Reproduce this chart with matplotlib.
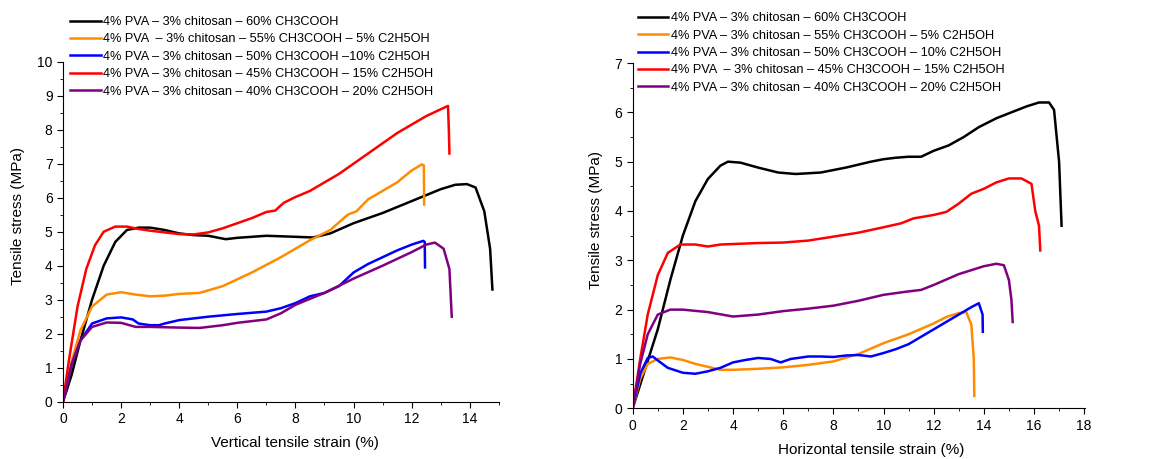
import matplotlib
matplotlib.use("Agg")
import matplotlib.pyplot as plt
from matplotlib.ticker import MultipleLocator
import numpy as np

plt.rcParams['font.family'] = ['Liberation Sans', 'DejaVu Sans']

colors = ["black", "#ff8c00", "#0000ff", "#ff0000", "#800080"]

labels_v = ["4% PVA – 3% chitosan – 60% CH3COOH",
            "4% PVA  – 3% chitosan – 55% CH3COOH – 5% C2H5OH",
            "4% PVA – 3% chitosan – 50% CH3COOH –10% C2H5OH",
            "4% PVA – 3% chitosan – 45% CH3COOH – 15% C2H5OH",
            "4% PVA – 3% chitosan – 40% CH3COOH – 20% C2H5OH"]
labels_h = ["4% PVA – 3% chitosan – 60% CH3COOH",
            "4% PVA – 3% chitosan – 55% CH3COOH – 5% C2H5OH",
            "4% PVA – 3% chitosan – 50% CH3COOH – 10% C2H5OH",
            "4% PVA  – 3% chitosan – 45% CH3COOH – 15% C2H5OH",
            "4% PVA – 3% chitosan – 40% CH3COOH – 20% C2H5OH"]

# vertical direction (left panel)
v_black_x = [0, 0.3, 0.6, 1.0, 1.4, 1.8, 2.2, 2.6, 3.0, 3.5, 4.0, 4.5, 5.0, 5.6, 6.0, 7.0, 8.0, 8.6, 9.2, 10, 11, 12, 13, 13.5, 13.9, 14.2, 14.5, 14.7, 14.78]
v_black_y = [0, 0.8, 1.8, 3.0, 4.0, 4.7, 5.05, 5.12, 5.12, 5.05, 4.95, 4.9, 4.88, 4.78, 4.82, 4.88, 4.85, 4.83, 4.95, 5.25, 5.55, 5.9, 6.25, 6.38, 6.4, 6.3, 5.6, 4.5, 3.3]
v_orange_x = [0, 0.3, 0.6, 1.0, 1.5, 2.0, 2.5, 3.0, 3.5, 4.0, 4.7, 5.5, 6.5, 7.5, 8.5, 9.2, 9.8, 10.1, 10.5, 11, 11.5, 12, 12.35, 12.42, 12.43]
v_orange_y = [0, 1.2, 2.1, 2.8, 3.15, 3.22, 3.15, 3.1, 3.12, 3.17, 3.2, 3.4, 3.8, 4.25, 4.75, 5.05, 5.5, 5.6, 5.95, 6.2, 6.45, 6.8, 6.98, 6.95, 5.8]
v_blue_x = [0, 0.3, 0.6, 1.0, 1.5, 2.0, 2.4, 2.6, 3.0, 3.3, 3.5, 4.0, 5, 6, 7, 7.5, 8, 8.5, 9, 9.5, 10, 10.5, 11, 11.5, 12, 12.4, 12.45, 12.46]
v_blue_y = [0, 1.1, 1.8, 2.3, 2.45, 2.48, 2.42, 2.3, 2.25, 2.25, 2.3, 2.4, 2.5, 2.58, 2.65, 2.75, 2.9, 3.1, 3.2, 3.4, 3.8, 4.05, 4.25, 4.45, 4.62, 4.73, 4.7, 3.95]
v_red_x = [0, 0.2, 0.5, 0.8, 1.1, 1.4, 1.8, 2.2, 2.6, 3.0, 3.5, 4.0, 4.5, 5.0, 5.5, 6, 6.5, 7, 7.3, 7.6, 8, 8.5, 9, 9.5, 10, 10.5, 11, 11.5, 12, 12.5, 13.0, 13.25, 13.28, 13.3]
v_red_y = [0, 1.2, 2.8, 3.9, 4.6, 5.0, 5.15, 5.15, 5.08, 5.03, 4.98, 4.93, 4.92, 4.98, 5.1, 5.25, 5.4, 5.58, 5.62, 5.85, 6.02, 6.2, 6.45, 6.7, 7.0, 7.3, 7.6, 7.9, 8.15, 8.4, 8.6, 8.7, 8.0, 7.3]
v_purple_x = [0, 0.3, 0.6, 1.0, 1.5, 2.0, 2.5, 3.0, 4.0, 4.7, 5.5, 6, 7, 7.5, 8, 9, 10, 11, 12, 12.5, 12.8, 13.1, 13.3, 13.38]
v_purple_y = [0, 1.1, 1.8, 2.2, 2.33, 2.32, 2.2, 2.2, 2.18, 2.17, 2.25, 2.32, 2.42, 2.6, 2.85, 3.2, 3.62, 4.0, 4.4, 4.62, 4.68, 4.5, 3.9, 2.5]

# horizontal direction (right panel)
h_black_x = [0, 0.5, 1.0, 1.5, 2.0, 2.5, 3.0, 3.5, 3.8, 4.3, 5, 5.8, 6.5, 7.5, 8.5, 9.5, 10, 10.5, 11, 11.5, 12, 12.6, 13.2, 13.8, 14.5, 15, 15.7, 16.2, 16.6, 16.8, 17.0, 17.1]
h_black_y = [0, 0.8, 1.6, 2.6, 3.5, 4.2, 4.65, 4.92, 5.0, 4.98, 4.88, 4.78, 4.75, 4.78, 4.88, 5.0, 5.05, 5.08, 5.1, 5.1, 5.22, 5.33, 5.5, 5.7, 5.88, 5.98, 6.12, 6.2, 6.2, 6.05, 5.0, 3.7]
h_orange_x = [0, 0.3, 0.6, 1.0, 1.5, 2.0, 2.5, 3.0, 3.5, 4.0, 5, 6, 7, 8, 9, 10, 11, 12, 12.5, 13, 13.3, 13.5, 13.6, 13.62]
h_orange_y = [0, 0.6, 0.9, 1.0, 1.03, 0.98, 0.9, 0.84, 0.78, 0.78, 0.8, 0.83, 0.88, 0.95, 1.1, 1.32, 1.5, 1.72, 1.85, 1.93, 1.95, 1.7, 1.0, 0.25]
h_blue_x = [0, 0.3, 0.6, 0.8, 1.0, 1.4, 2.0, 2.5, 3.0, 3.5, 4.0, 4.5, 5.0, 5.5, 5.9, 6.3, 7.0, 7.5, 8, 8.5, 9, 9.5, 10, 10.5, 11, 11.5, 12, 12.5, 13, 13.5, 13.8, 13.95, 13.96]
h_blue_y = [0, 0.7, 1.02, 1.05, 0.97, 0.82, 0.72, 0.7, 0.75, 0.82, 0.93, 0.98, 1.02, 1.0, 0.93, 1.0, 1.05, 1.05, 1.04, 1.07, 1.08, 1.05, 1.12, 1.2, 1.3, 1.45, 1.6, 1.75, 1.9, 2.05, 2.13, 1.9, 1.55]
h_red_x = [0, 0.3, 0.6, 1.0, 1.4, 1.9, 2.5, 3.0, 3.5, 4.0, 5, 6, 7, 8, 9, 10, 10.7, 11.2, 12, 12.5, 13, 13.5, 14, 14.5, 15, 15.5, 15.9, 16.05, 16.2, 16.25]
h_red_y = [0, 1.0, 1.9, 2.7, 3.15, 3.32, 3.32, 3.28, 3.32, 3.33, 3.35, 3.36, 3.4, 3.48, 3.56, 3.67, 3.75, 3.85, 3.92, 3.98, 4.15, 4.35, 4.45, 4.58, 4.66, 4.66, 4.55, 4.0, 3.7, 3.2]
h_purple_x = [0, 0.3, 0.6, 1.0, 1.5, 2.0, 3.0, 4.0, 5, 6, 7, 8, 9, 10, 11, 11.5, 12, 13, 14, 14.5, 14.8, 15.0, 15.1, 15.15]
h_purple_y = [0, 0.9, 1.5, 1.9, 2.0, 2.0, 1.95, 1.86, 1.9, 1.97, 2.02, 2.08, 2.18, 2.3, 2.37, 2.4, 2.5, 2.72, 2.88, 2.93, 2.9, 2.6, 2.2, 1.75]

v_curves = [(v_black_x, v_black_y), (v_orange_x, v_orange_y), (v_blue_x, v_blue_y),
            (v_red_x, v_red_y), (v_purple_x, v_purple_y)]
h_curves = [(h_black_x, h_black_y), (h_orange_x, h_orange_y), (h_blue_x, h_blue_y),
            (h_red_x, h_red_y), (h_purple_x, h_purple_y)]

fig = plt.figure(figsize=(11.52, 4.59), dpi=100)
ax1 = fig.add_axes([0.0547, 0.1248, 0.3783, 0.7408])
ax2 = fig.add_axes([0.5492, 0.1105, 0.3930, 0.7522])


def style(ax, xmax, ymax, xlabel):
    ax.set_xlim(0, xmax)
    ax.set_ylim(0, ymax)
    for s in ["top", "right"]:
        ax.spines[s].set_visible(False)
    ax.xaxis.set_major_locator(MultipleLocator(2))
    ax.xaxis.set_minor_locator(MultipleLocator(1))
    ax.yaxis.set_major_locator(MultipleLocator(1))
    ax.yaxis.set_minor_locator(MultipleLocator(0.5))
    ax.tick_params(which="major", direction="out", length=4, labelsize=10)
    ax.tick_params(which="minor", direction="out", length=2)
    ax.set_xlabel(xlabel, fontsize=11)
    ax.set_ylabel("Tensile stress (MPa)", fontsize=11)


for (x, y), c, lab in zip(v_curves, colors, labels_v):
    ax1.plot(x, y, color=c, lw=1.8, label=lab)
for (x, y), c, lab in zip(h_curves, colors, labels_h):
    ax2.plot(x, y, color=c, lw=1.8, label=lab)

style(ax1, 15, 10, "Vertical tensile strain (%)")
style(ax2, 18.05, 7, "Horizontal tensile strain (%)")

ax1.xaxis.set_label_coords(0.532, -0.10)
ax1.yaxis.set_label_coords(-0.087, 0.545)
ax2.xaxis.set_label_coords(0.526, -0.10)
ax2.yaxis.set_label_coords(-0.066, 0.545)

ax1.legend(loc="upper left", bbox_to_anchor=(0.061, 0.965), bbox_transform=fig.transFigure,
           frameon=False, fontsize=9.2, handlelength=2.4, handletextpad=0.2,
           labelspacing=0.42, borderpad=0, borderaxespad=0)
ax2.legend(loc="upper left", bbox_to_anchor=(0.5535, 0.973), bbox_transform=fig.transFigure,
           frameon=False, fontsize=9.2, handlelength=2.4, handletextpad=0.2,
           labelspacing=0.42, borderpad=0, borderaxespad=0)

fig.savefig("out.png", dpi=100)
